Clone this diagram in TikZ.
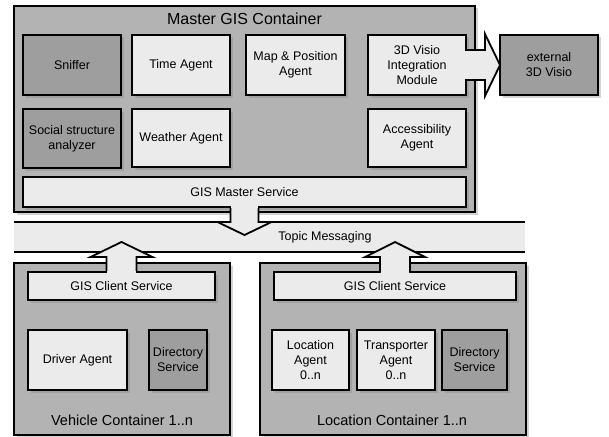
\documentclass[tikz,border=0pt]{standalone}
\usepackage{fontspec}
\setmainfont{Liberation Sans}
\usetikzlibrary{calc,shadows}
\definecolor{boxgray}{HTML}{B3B3B3}
\definecolor{agentdark}{HTML}{9E9E9E}
\definecolor{agentlight}{HTML}{EBEBEB}
\tikzset{
 boxshadow/.style={drop shadow={shadow xshift=2.5pt,shadow yshift=-2.5pt,opacity=0.35}},
 container/.style={draw, line width=1.8pt, outer sep=0pt, fill=boxgray, boxshadow},
 agent/.style={draw, line width=1.8pt, outer sep=0pt, fill=agentlight, align=center,
  font=\fontsize{12.5}{15}\selectfont, boxshadow},
 darkagent/.style={agent, fill=agentdark},
 blockarrow/.style={draw, line width=1.8pt, fill=agentlight, line join=miter},
 title/.style={font=\fontsize{14.5}{17}\selectfont}
}
\begin{document}
\begin{tikzpicture}[x=1pt,y=-1pt]
 \useasboundingbox (0,0) rectangle (609,436);
 % master container
 \node[container, minimum width=461, minimum height=206] (master) at (244.5,109) {};
 \node[title, font=\fontsize{16}{18}\selectfont] (mastertitle) at (244.5,19) {Master GIS Container};
 \node[darkagent, minimum width=98, minimum height=60] (sniffer) at (72,65) {Sniffer};
 \node[agent, minimum width=98, minimum height=60] (time) at (181,65) {Time Agent};
 \node[agent, minimum width=99, minimum height=60] (mappos) at (295.5,65) {Map \& Position\\Agent};
 \node[agent, minimum width=98, minimum height=60] (visio) at (417,65) {3D Visio\\Integration\\Module};
 \node[darkagent, minimum width=98, minimum height=59] (social) at (72,138.5) {Social structure\\analyzer};
 \node[agent, minimum width=98, minimum height=58] (weather) at (181,138) {Weather Agent};
 \node[agent, minimum width=98, minimum height=58] (access) at (417,138) {Accessibility\\Agent};
 \node[agent, minimum width=443, minimum height=30] (mastersvc) at (244.5,192) {GIS Master Service};
 \node[darkagent, minimum width=98, minimum height=60] (external) at (549,65) {external\\3D Visio};
 % topic messaging
 \node[fill=agentlight, outer sep=0pt, minimum width=511, minimum height=30] (topic) at (269.5,237) {};
 \draw[line width=1.8pt] (topic.north west) -- (topic.north east);
 \draw[line width=1.8pt] (topic.south west) -- (topic.south east);
 \node[font=\fontsize{12.5}{15}\selectfont] (topiclabel) at (325,237) {Topic Messaging};
 % vehicle container
 \node[container, minimum width=216, minimum height=172] (vehicle) at (122,349) {};
 \node[agent, minimum width=187, minimum height=28] (vclient) at (121.5,286) {GIS Client Service};
 \node[agent, minimum width=99, minimum height=60] (driver) at (77.5,360) {Driver Agent};
 \node[darkagent, minimum width=58, minimum height=60] (vdir) at (178,360) {Directory\\Service};
 \node[title] (vehicletitle) at (122,420) {Vehicle Container 1..n};
 % location container
 \node[container, minimum width=266, minimum height=172] (location) at (393,349) {};
 \node[agent, minimum width=242, minimum height=28] (lclient) at (395,286) {GIS Client Service};
 \node[agent, minimum width=77, minimum height=60] (locagent) at (310.5,360) {Location\\Agent\\0..n};
 \node[agent, minimum width=78, minimum height=60] (transp) at (396,360) {Transporter\\Agent\\0..n};
 \node[darkagent, minimum width=65, minimum height=60] (ldir) at (474.5,360) {Directory\\Service};
 \node[title] (locationtitle) at (392,420) {Location Container 1..n};
 % block arrows
 \draw[blockarrow] ($(mastersvc.south)+(-14,0)$) -- ++(0,15) -- ++(-13,0) -- ++(27,13)
  -- ++(27,-13) -- ++(-13,0) -- ++(0,-15);
 \fill[agentlight] ($(mastersvc.south)+(-13.1,-1.8)$) rectangle ($(mastersvc.south)+(13.1,1)$);
 \draw[blockarrow] ($(vclient.north)+(-15,0)$) -- ++(0,-15) -- ++(-16,0) -- ++(31,-15)
  -- ++(31,15) -- ++(-16,0) -- ++(0,15);
 \fill[agentlight] ($(vclient.north)+(-14.1,1.8)$) rectangle ($(vclient.north)+(14.1,-1)$);
 \draw[blockarrow] ($(lclient.north)+(-15,0)$) -- ++(0,-15) -- ++(-15,0) -- ++(30,-15)
  -- ++(30,15) -- ++(-15,0) -- ++(0,15);
 \fill[agentlight] ($(lclient.north)+(-14.1,1.8)$) rectangle ($(lclient.north)+(14.1,-1)$);
 \draw[blockarrow] ($(visio.east)+(0,-15)$) -- ++(19,0) -- ++(0,-16) -- ++(15,31)
  -- ++(-15,31) -- ++(0,-16) -- ++(-19,0);
 \fill[agentlight] ($(visio.east)+(-1.8,-14.1)$) rectangle ($(visio.east)+(1,14.1)$);
\end{tikzpicture}
\end{document}
